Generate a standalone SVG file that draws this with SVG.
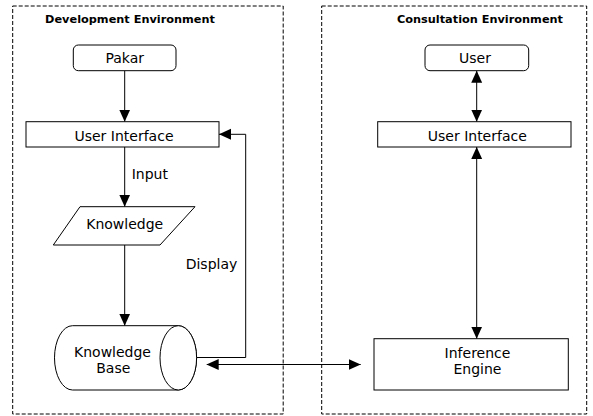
<svg xmlns="http://www.w3.org/2000/svg" width="593" height="416" viewBox="0 0 593 416">
<style>
.t{font-family:"DejaVu Sans","Liberation Sans",sans-serif;font-size:14px;fill:#000;}
.h{font-family:"DejaVu Sans","Liberation Sans",sans-serif;font-size:11.3px;font-weight:bold;fill:#000;}
.b{fill:#fff;stroke:#000;stroke-width:1;}
.env{fill:none;stroke:#000;stroke-width:1;stroke-dasharray:4,2;}
.c{fill:none;stroke:#000;stroke-width:1;}
</style>
<defs>
<marker id="ah" markerUnits="userSpaceOnUse" markerWidth="12" markerHeight="12" viewBox="0 0 11 10" refX="11" refY="5" orient="auto-start-reverse">
<path d="M0,0 L11,5 L0,10 Z" fill="#000"/>
</marker>
</defs>
<rect width="593" height="416" fill="#fff"/>
<g id="dev-env">
<rect class="env" x="12.7" y="6" width="270.5" height="408"/>
<text class="h" x="130" y="22.5" text-anchor="middle">Development Environment</text>
</g>
<g id="cons-env">
<rect class="env" x="321.7" y="6" width="265" height="408"/>
<text class="h" x="480" y="22.5" text-anchor="middle">Consultation Environment</text>
</g>
<g id="connectors">
<line class="c" x1="124.7" y1="70.7" x2="124.7" y2="121.7" marker-end="url(#ah)"/>
<line class="c" x1="124.7" y1="147" x2="124.7" y2="206.7" marker-end="url(#ah)"/>
<line class="c" x1="124.7" y1="245" x2="124.7" y2="325.7" marker-end="url(#ah)"/>
<path class="c" d="M196.7,357.5 H245.7 V134.3 H219" marker-end="url(#ah)"/>
<line class="c" x1="206.7" y1="364.5" x2="360.7" y2="364.5" marker-start="url(#ah)" marker-end="url(#ah)"/>
<line class="c" x1="476.7" y1="70.7" x2="476.7" y2="121.7" marker-start="url(#ah)" marker-end="url(#ah)"/>
<line class="c" x1="476.7" y1="147" x2="476.7" y2="338.7" marker-start="url(#ah)" marker-end="url(#ah)"/>
<text class="t" x="131.7" y="179">Input</text>
<text class="t" x="185.7" y="269.3">Display</text>
</g>
<g id="pakar">
<rect class="b" x="73.3" y="45" width="102.7" height="25.7" rx="5"/>
<text class="t" x="124.7" y="63" text-anchor="middle">Pakar</text>
</g>
<g id="ui-dev">
<rect class="b" x="26" y="121.7" width="193" height="25.3"/>
<text class="t" x="124" y="140.7" text-anchor="middle">User Interface</text>
</g>
<g id="knowledge">
<polygon class="b" points="80,206.7 195,206.7 160,245 53.3,245"/>
<text class="t" x="124.7" y="229.3" text-anchor="middle">Knowledge</text>
</g>
<g id="knowledge-base">
<path class="b" d="M72.5,325.7 H178.3 A18.3,32.15 0 0 1 178.3,390 H72.5 A18,32.15 0 0 1 72.5,325.7 Z"/>
<ellipse class="b" cx="178.3" cy="357.85" rx="18.3" ry="32.15"/>
<text class="t" x="112.5" y="357.3" text-anchor="middle">Knowledge</text>
<text class="t" x="113.3" y="373.3" text-anchor="middle">Base</text>
</g>
<g id="user">
<rect class="b" x="425" y="45" width="103.7" height="25.7" rx="5"/>
<text class="t" x="475" y="63" text-anchor="middle">User</text>
</g>
<g id="ui-cons">
<rect class="b" x="377.7" y="121.7" width="193.3" height="25.3"/>
<text class="t" x="477.3" y="140.7" text-anchor="middle">User Interface</text>
</g>
<g id="inference-engine">
<rect class="b" x="374" y="338.7" width="194.3" height="51.3"/>
<text class="t" x="477.5" y="357.7" text-anchor="middle">Inference</text>
<text class="t" x="477.5" y="374.3" text-anchor="middle">Engine</text>
</g>
</svg>
